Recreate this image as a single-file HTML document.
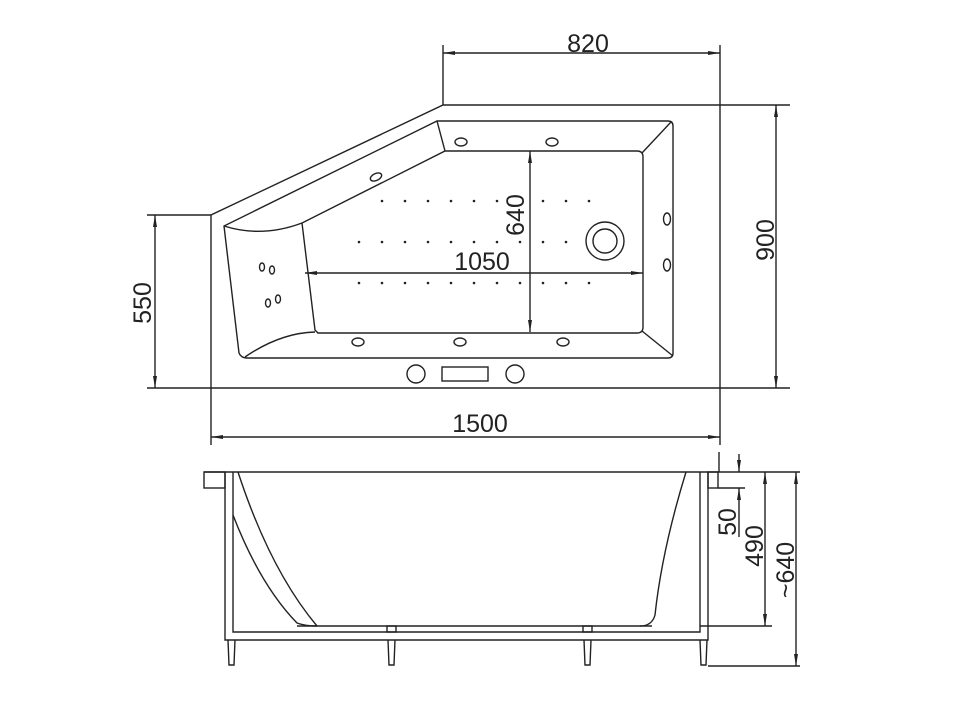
<!DOCTYPE html>
<html><head><meta charset="utf-8"><style>
html,body{margin:0;padding:0;background:#fff;}
svg{display:block;}
text{font-family:"Liberation Sans",sans-serif;font-size:25px;fill:#222;}
</style></head><body>
<svg width="960" height="720" viewBox="0 0 960 720" xmlns="http://www.w3.org/2000/svg">
<defs>
<marker id="a" viewBox="0 0 12 6" refX="12" refY="3" markerWidth="12" markerHeight="6" orient="auto-start-reverse" markerUnits="userSpaceOnUse"><path d="M0,1 L12,3 L0,5 z" fill="#222"/></marker>
</defs>
<g fill="none" stroke="#222" stroke-width="1.4">
<!-- top view outer -->
<polyline points="211,388 211,215 443,105 790,105"/>
<line x1="147" y1="388" x2="790" y2="388"/>
<line x1="720" y1="45" x2="720" y2="445"/>
<line x1="443" y1="45" x2="443" y2="105"/>
<line x1="147" y1="215" x2="211" y2="215"/>
<line x1="211" y1="388" x2="211" y2="445"/>
<!-- rim -->
<path d="M437,121 L668,121 Q673,121 673,126 L673,353 Q673,358 668,358 L247,358 Q241,358 239,353 L224,226 Z"/>
<path d="M445,151 L637,151 Q643,151 643,157 L643,327 Q643,333 637,333 L318,333 L315,330 L302,223 Z"/>
<line x1="437" y1="121" x2="445" y2="151"/>
<line x1="671" y1="122" x2="642" y2="153"/>
<line x1="673" y1="356" x2="642" y2="331"/>
<path d="M224,226 Q262,238 302,223"/>
<path d="M245,357 Q280,333 315,332"/>
<!-- jets -->
<ellipse cx="461" cy="142" rx="6" ry="4"/>
<ellipse cx="552" cy="142" rx="6" ry="4"/>
<ellipse cx="376" cy="177" rx="6" ry="3.5" transform="rotate(-25 376 177)"/>
<ellipse cx="667" cy="219" rx="3.5" ry="6"/>
<ellipse cx="667" cy="265" rx="3.5" ry="6"/>
<ellipse cx="358" cy="342" rx="6" ry="4"/>
<ellipse cx="460" cy="342" rx="6" ry="4"/>
<ellipse cx="563" cy="342" rx="6" ry="4"/>
<ellipse cx="262" cy="267" rx="2.5" ry="4"/>
<ellipse cx="272" cy="270" rx="2.5" ry="4"/>
<ellipse cx="268" cy="303" rx="2.5" ry="4"/>
<ellipse cx="278" cy="299" rx="2.5" ry="4"/>
<circle cx="605" cy="241" r="19"/>
<circle cx="605" cy="241" r="12"/>
<circle cx="416" cy="374" r="9"/>
<circle cx="515" cy="374" r="9"/>
<rect x="442" y="367" width="46" height="14"/>
</g>
<g fill="#222">
<g id="r1">
<circle cx="382" cy="201" r="1.3"/><circle cx="405" cy="201" r="1.3"/><circle cx="428" cy="201" r="1.3"/><circle cx="451" cy="201" r="1.3"/><circle cx="474" cy="201" r="1.3"/><circle cx="497" cy="201" r="1.3"/><circle cx="543" cy="201" r="1.3"/><circle cx="566" cy="201" r="1.3"/><circle cx="589" cy="201" r="1.3"/>
</g>
<circle cx="359" cy="242" r="1.3"/><circle cx="382" cy="242" r="1.3"/><circle cx="405" cy="242" r="1.3"/><circle cx="428" cy="242" r="1.3"/><circle cx="451" cy="242" r="1.3"/><circle cx="474" cy="242" r="1.3"/><circle cx="497" cy="242" r="1.3"/><circle cx="520" cy="242" r="1.3"/><circle cx="543" cy="242" r="1.3"/><circle cx="566" cy="242" r="1.3"/>
<circle cx="359" cy="283" r="1.3"/><circle cx="382" cy="283" r="1.3"/><circle cx="405" cy="283" r="1.3"/><circle cx="428" cy="283" r="1.3"/><circle cx="451" cy="283" r="1.3"/><circle cx="474" cy="283" r="1.3"/><circle cx="497" cy="283" r="1.3"/><circle cx="520" cy="283" r="1.3"/><circle cx="543" cy="283" r="1.3"/><circle cx="566" cy="283" r="1.3"/><circle cx="589" cy="283" r="1.3"/>
</g>
<g fill="none" stroke="#222" stroke-width="1.4">
<!-- dimension lines top -->
<line x1="443" y1="53" x2="720" y2="53" marker-start="url(#a)" marker-end="url(#a)"/>
<line x1="776" y1="105" x2="776" y2="388" marker-start="url(#a)" marker-end="url(#a)"/>
<line x1="155" y1="215" x2="155" y2="388" marker-start="url(#a)" marker-end="url(#a)"/>
<line x1="211" y1="437" x2="720" y2="437" marker-start="url(#a)" marker-end="url(#a)"/>
<line x1="530" y1="151" x2="530" y2="332" marker-start="url(#a)" marker-end="url(#a)"/>
<line x1="305" y1="273" x2="643" y2="273" marker-start="url(#a)" marker-end="url(#a)"/>
<!-- side view -->
<line x1="204" y1="472" x2="800" y2="472"/>
<rect x="204" y="472" width="21" height="16"/>
<rect x="708" y="472" width="10" height="16"/>
<line x1="718" y1="488" x2="745" y2="488"/>
<polyline points="225,472 225,640 708,640 708,472"/>
<polyline points="233,472 233,632 700,632 700,472"/>
<path d="M238,472 Q270,570 317,626"/>
<path d="M233,515 Q260,585 297,623 Q305,626 317,626"/>
<path d="M686,472 Q662,550 655,615 Q652,626 640,626"/>
<line x1="297" y1="626" x2="652" y2="626"/>
<rect x="387" y="626" width="9" height="6"/>
<rect x="583" y="626" width="9" height="6"/>
<path d="M228,640 L229,665 L234,665 L235,640"/>
<path d="M388,640 L389,665 L394,665 L395,640"/>
<path d="M584,640 L585,665 L590,665 L591,640"/>
<path d="M700,640 L701,665 L706,665 L707,640"/>
<line x1="708" y1="666" x2="800" y2="666"/>
<line x1="700" y1="626" x2="772" y2="626"/>
<line x1="719" y1="452" x2="719" y2="472"/>
<line x1="739" y1="454" x2="739" y2="472" marker-end="url(#a)"/>
<line x1="739" y1="537" x2="739" y2="488" marker-end="url(#a)"/>
<line x1="765" y1="472" x2="765" y2="626" marker-start="url(#a)" marker-end="url(#a)"/>
<line x1="796" y1="472" x2="796" y2="666" marker-start="url(#a)" marker-end="url(#a)"/>
</g>
<text x="588" y="52" text-anchor="middle">820</text>
<text x="480" y="432" text-anchor="middle">1500</text>
<text x="482" y="270" text-anchor="middle">1050</text>
<text transform="translate(524,215) rotate(-90)" text-anchor="middle">640</text>
<text transform="translate(774,240) rotate(-90)" text-anchor="middle">900</text>
<text transform="translate(151,303) rotate(-90)" text-anchor="middle">550</text>
<text transform="translate(736,522) rotate(-90)" text-anchor="middle">50</text>
<text transform="translate(763,546) rotate(-90)" text-anchor="middle">490</text>
<text transform="translate(794,570) rotate(-90)" text-anchor="middle">~640</text>
</svg>
</body></html>
